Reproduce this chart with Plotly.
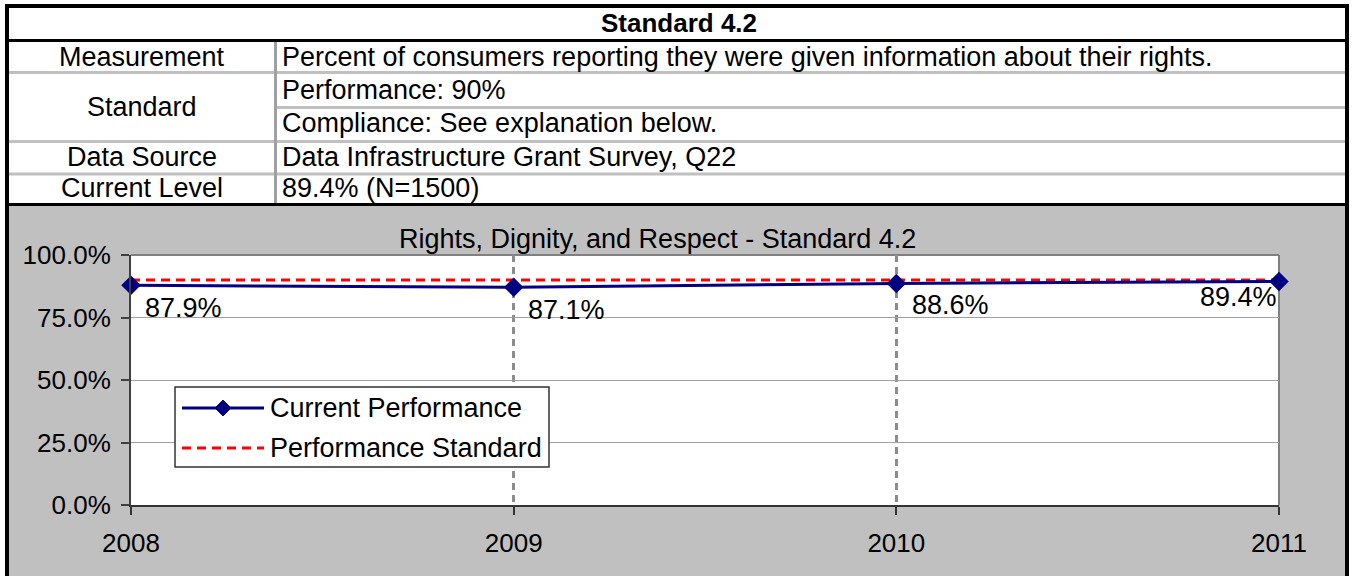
import plotly.graph_objects as go

# ---------------- data ----------------
years = [2008, 2009, 2010, 2011]
year_labels = ["2008", "2009", "2010", "2011"]
current_performance = [0.879, 0.871, 0.886, 0.894]
performance_standard = [0.90, 0.90, 0.90, 0.90]
series_names = ["Current Performance", "Performance Standard"]
y_ticks = [0.0, 0.25, 0.50, 0.75, 1.0]
chart_title = "Rights, Dignity, and Respect - Standard 4.2"

table_title = "Standard 4.2"
table_labels = ["Measurement", "Standard", "Data Source", "Current Level"]
table_values = [
    "Percent of consumers reporting they were given information about their rights.",
    "Performance: 90%",
    "Compliance: See explanation below.",
    "Data Infrastructure Grant Survey, Q22",
    "89.4% (N=1500)",
]

# ---------------- geometry helpers (pixels -> paper) ----------------
W, H = 1353, 576
def X(px):
    return px / W
def Y(py):
    return 1 - py / H

FONT = "Arial, Liberation Sans, sans-serif"
FS = 27      # text size
FT = 26      # tick label size
NAVY = "#000080"
RED = "#FF0000"

fig = go.Figure()

fig.add_trace(go.Scatter(
    x=years, y=performance_standard, name=series_names[1], mode="lines",
    line=dict(color=RED, width=3, dash="9px,6px"), cliponaxis=False,
    showlegend=False, hoverinfo="skip"))
fig.add_trace(go.Scatter(
    x=years, y=current_performance, name=series_names[0], mode="lines+markers",
    line=dict(color=NAVY, width=3),
    marker=dict(symbol="diamond", size=15, color=NAVY),
    cliponaxis=False, showlegend=False))

shapes = []
ann = []

# chart area background
shapes.append(dict(type="rect", xref="paper", yref="paper", layer="below",
                   x0=X(7), x1=X(1347), y0=Y(576), y1=Y(205),
                   fillcolor="#C0C0C0", line=dict(width=0)))
# plot area (white) and top/right border
shapes.append(dict(type="rect", xref="x domain", yref="y domain", layer="below",
                   x0=0, x1=1, y0=0, y1=1, fillcolor="white", line=dict(width=0)))
shapes.append(dict(type="line", xref="x domain", yref="y domain", layer="below",
                   x0=0, x1=1, y0=1, y1=1, line=dict(color="#808080", width=2)))
shapes.append(dict(type="line", xref="x domain", yref="y domain", layer="below",
                   x0=1, x1=1, y0=0, y1=1, line=dict(color="#808080", width=2)))

# table lines
def hline(y, x0, x1, color, w):
    shapes.append(dict(type="line", xref="paper", yref="paper", layer="above",
                       x0=X(x0), x1=X(x1), y0=Y(y), y1=Y(y),
                       line=dict(color=color, width=w)))
def vline(x, y0, y1, color, w):
    shapes.append(dict(type="line", xref="paper", yref="paper", layer="above",
                       x0=X(x), x1=X(x), y0=Y(y0), y1=Y(y1),
                       line=dict(color=color, width=w)))

GRAYLINE = "#C0C0C0"
hline(72.5, 7, 1347, GRAYLINE, 3)
hline(107.5, 275, 1347, GRAYLINE, 3)
hline(141.5, 7, 1347, GRAYLINE, 3)
hline(174, 7, 1347, GRAYLINE, 3)
vline(275.5, 40, 204, "#A0A0A0", 3)
hline(6, 5, 1349, "black", 4)
hline(40.5, 7, 1347, "black", 3)
hline(204.5, 7, 1347, "black", 3)
vline(7, 4, 576, "black", 4)
vline(1347, 4, 576, "black", 4)

# table texts
ann.append(dict(xref="paper", yref="paper", x=X(679), y=Y(23), text="<b>" + table_title + "</b>",
                showarrow=False, xanchor="center", yanchor="middle",
                font=dict(family=FONT, size=26, color="black")))
label_y = [57, 107, 157, 188]
for t, yy in zip(table_labels, label_y):
    ann.append(dict(xref="paper", yref="paper", x=X(142), y=Y(yy), text=t,
                    showarrow=False, xanchor="center", yanchor="middle",
                    font=dict(family=FONT, size=FS, color="black")))
value_y = [57, 90, 123, 157, 188]
for t, yy in zip(table_values, value_y):
    ann.append(dict(xref="paper", yref="paper", x=X(280), y=Y(yy), text=t,
                    showarrow=False, xanchor="left", yanchor="middle",
                    font=dict(family=FONT, size=FS, color="black")))

# chart title
ann.append(dict(xref="paper", yref="paper", x=X(657), y=Y(239), text=chart_title,
                showarrow=False, xanchor="center", yanchor="middle",
                font=dict(family=FONT, size=FS, color="black")))

# data labels (style: anchor, xshift, yshift)
label_style = [("left", 12, -23), ("left", 12, -23), ("left", 14, -22), ("right", 0, -16)]
for xv, yv, (xa, xs, ys) in zip(years, current_performance, label_style):
    ann.append(dict(xref="x", yref="y", x=xv, y=yv, text=f"{yv*100:.1f}%",
                    showarrow=False, xanchor=xa, yanchor="middle", xshift=xs, yshift=ys,
                    font=dict(family=FONT, size=FS, color="black")))

# custom legend
shapes.append(dict(type="rect", xref="paper", yref="paper", layer="above",
                   x0=X(175), x1=X(549), y0=Y(467), y1=Y(387),
                   fillcolor="white", line=dict(color="#333333", width=1.5)))
shapes.append(dict(type="line", xref="paper", yref="paper", layer="above",
                   x0=X(182), x1=X(264), y0=Y(408), y1=Y(408),
                   line=dict(color=NAVY, width=3)))
cx, cy, r = 223, 408, 8
shapes.append(dict(type="path", xref="paper", yref="paper", layer="above",
                   path=f"M {X(cx)},{Y(cy-r)} L {X(cx+r)},{Y(cy)} L {X(cx)},{Y(cy+r)} L {X(cx-r)},{Y(cy)} Z",
                   fillcolor=NAVY, line=dict(color=NAVY, width=1)))
shapes.append(dict(type="line", xref="paper", yref="paper", layer="above",
                   x0=X(182), x1=X(264), y0=Y(448), y1=Y(448),
                   line=dict(color=RED, width=3, dash="9px,6px")))
for name, yy in zip(series_names, [408, 448]):
    ann.append(dict(xref="paper", yref="paper", x=X(268), y=Y(yy), text=name,
                    showarrow=False, xanchor="left", yanchor="middle",
                    font=dict(family=FONT, size=FS, color="black")))

fig.update_layout(
    width=W, height=H, autosize=False,
    margin=dict(l=0, r=0, t=0, b=0, pad=0, autoexpand=False),
    paper_bgcolor="white", plot_bgcolor="white",
    showlegend=False,
    shapes=shapes, annotations=ann,
    font=dict(family=FONT, size=FS, color="black"),
    xaxis=dict(domain=[X(131), X(1279)], range=[2008, 2011], automargin=False,
               tickvals=years, ticktext=year_labels,
               showgrid=True, gridcolor="#8C8C8C", griddash="7px,5px", gridwidth=2.5,
               showline=True, linecolor="#333333", linewidth=2,
               ticks="outside", ticklen=8, tickwidth=2, tickcolor="#333333",
               tickfont=dict(family=FONT, size=FT, color="black"),
               ticklabelstandoff=6, zeroline=False, fixedrange=True),
    yaxis=dict(domain=[Y(505), Y(255)], range=[0, 1], automargin=False,
               tickvals=y_ticks, tickformat=".1%",
               showgrid=True, gridcolor="#A0A0A0", gridwidth=1,
               showline=True, linecolor="#404040", linewidth=2,
               ticks="outside", ticklen=8, tickwidth=2, tickcolor="#404040",
               tickfont=dict(family=FONT, size=FT, color="black"),
               ticklabelstandoff=5, zeroline=False, fixedrange=True),
)

fig.write_html("out.html", config={"displayModeBar": False},
               post_script="document.body.style.margin='0px';")
